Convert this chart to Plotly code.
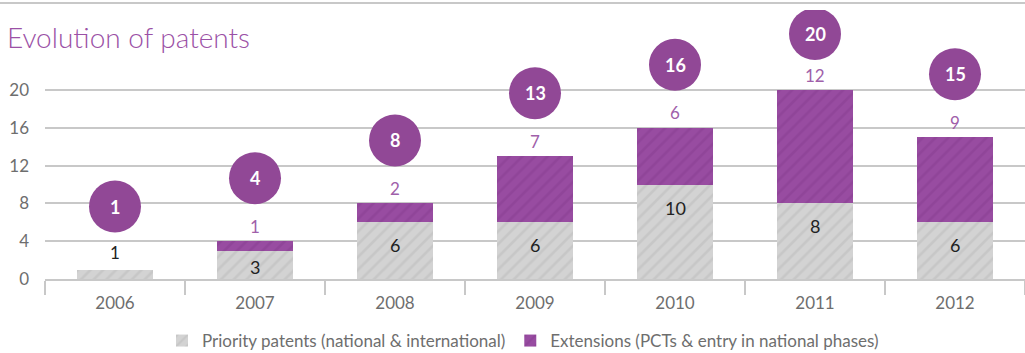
import plotly.graph_objects as go

# Patent counts per year
years = ["2006", "2007", "2008", "2009", "2010", "2011", "2012"]
priority = [1, 3, 6, 6, 10, 8, 6]
extensions = [0, 1, 2, 7, 6, 12, 9]
totals = [p + e for p, e in zip(priority, extensions)]
y_ticks = [0, 4, 8, 12, 16, 20]

W, H = 1025, 353
M_L, M_R, M_T, M_B = 45, 0, 10, 74
PX_PER_UNIT = 9.45
plot_h = H - M_T - M_B
y_max = plot_h / PX_PER_UNIT

PURPLE = "#914896"
PURPLE_BAR = "#984ca1"
PURPLE_HATCH = "#883d92"
PURPLE_TEXT = "#a060aa"
GREY = "#d3d3d3"
GREY_HATCH = "#bcbcbc"
TEXT_GREY = "#6e6e6e"
FONT = "Lato"

fig = go.Figure()
fig.add_trace(go.Bar(
    x=years, y=priority, name="Priority patents (national & international)",
    marker=dict(color=GREY, line=dict(width=0),
                pattern=dict(shape="/", fgcolor=GREY_HATCH, bgcolor=GREY,
                             size=9, solidity=0.3, fillmode="overlay")),
    hoverinfo="skip",
))
fig.add_trace(go.Bar(
    x=years, y=extensions, name="Extensions (PCTs & entry in national phases)",
    marker=dict(color=PURPLE_BAR, line=dict(width=0),
                pattern=dict(shape="/", fgcolor=PURPLE_HATCH, bgcolor=PURPLE_BAR,
                             size=9, solidity=0.3, fillmode="overlay")),
    hoverinfo="skip",
))

annotations = []
shapes = []
R = 26
for i, (yr, p, e, t) in enumerate(zip(years, priority, extensions, totals)):
    seg_px = p * PX_PER_UNIT
    # priority count: inside the grey segment, or above the bar if too short
    if seg_px < 20:
        annotations.append(dict(x=i, y=t, xref="x", yref="y", text=str(p), showarrow=False,
                                yshift=17, font=dict(size=17, color="#222", family=FONT)))
    else:
        off = min(23, seg_px / 2 + 2)
        annotations.append(dict(x=i, y=p, xref="x", yref="y", text=str(p), showarrow=False,
                                yshift=-off, font=dict(size=18, color="#222", family=FONT)))
    # extension count above the bar
    if e > 0:
        annotations.append(dict(x=i, y=t, xref="x", yref="y", text=str(e), showarrow=False,
                                yshift=15, font=dict(size=17, color=PURPLE_TEXT, family=FONT)))
    # total in a circle, kept inside the canvas
    top_px = M_T + (y_max - t) * PX_PER_UNIT
    off = min(63, top_px - 34)
    shapes.append(dict(type="circle", xref="x", yref="y", xsizemode="pixel", ysizemode="pixel",
                       xanchor=i, yanchor=t, x0=-R, x1=R, y0=off - R, y1=off + R,
                       fillcolor=PURPLE, line=dict(width=0), layer="above"))
    annotations.append(dict(x=i, y=t, xref="x", yref="y", text=f"<b>{t}</b>", showarrow=False,
                            yshift=off, font=dict(size=18, color="white", family=FONT)))

# thin rule across the top of the figure
rule_y = (plot_h + M_T - 3) / plot_h
shapes.append(dict(type="line", xref="paper", yref="paper",
                   x0=-M_L / (W - M_L - M_R), x1=1, y0=rule_y, y1=rule_y,
                   line=dict(color="#c8c8c8", width=2)))

fig.update_layout(
    width=W, height=H,
    margin=dict(l=M_L, r=M_R, t=M_T, b=M_B, autoexpand=False),
    barmode="stack", bargap=0.457,
    plot_bgcolor="white", paper_bgcolor="white",
    font=dict(family=FONT, color=TEXT_GREY, size=15),
    title=dict(text="Evolution of patents", xref="container", yref="container",
               x=7 / W, xanchor="left", y=1 - 38 / H, yanchor="middle",
               font=dict(size=28, color="#9b51a6", family=FONT, weight=300)),
    xaxis=dict(type="category", range=[-0.5, 6.5], showgrid=False, automargin=False,
               showline=True, linecolor="#c8c8c8", linewidth=1.5,
               ticks="outside", tickson="boundaries", ticklen=14, tickcolor="#c8c8c8",
               tickwidth=1.5, ticklabelstandoff=8, tickfont=dict(size=17, color=TEXT_GREY)),
    yaxis=dict(range=[0, y_max], tickvals=y_ticks, showgrid=True, gridcolor="#c8c8c8",
               gridwidth=1.5, zeroline=False, showline=False, ticks="", automargin=False,
               ticklabelstandoff=15, tickfont=dict(size=17, color=TEXT_GREY)),
    showlegend=True,
    legend=dict(orientation="h", x=(523 - M_L) / (W - M_L), xanchor="center",
                y=(279 - 341) / plot_h, yanchor="middle", traceorder="normal",
                font=dict(size=17, color=TEXT_GREY, family=FONT)),
    shapes=shapes, annotations=annotations,
)

fig.write_html("out.html")
